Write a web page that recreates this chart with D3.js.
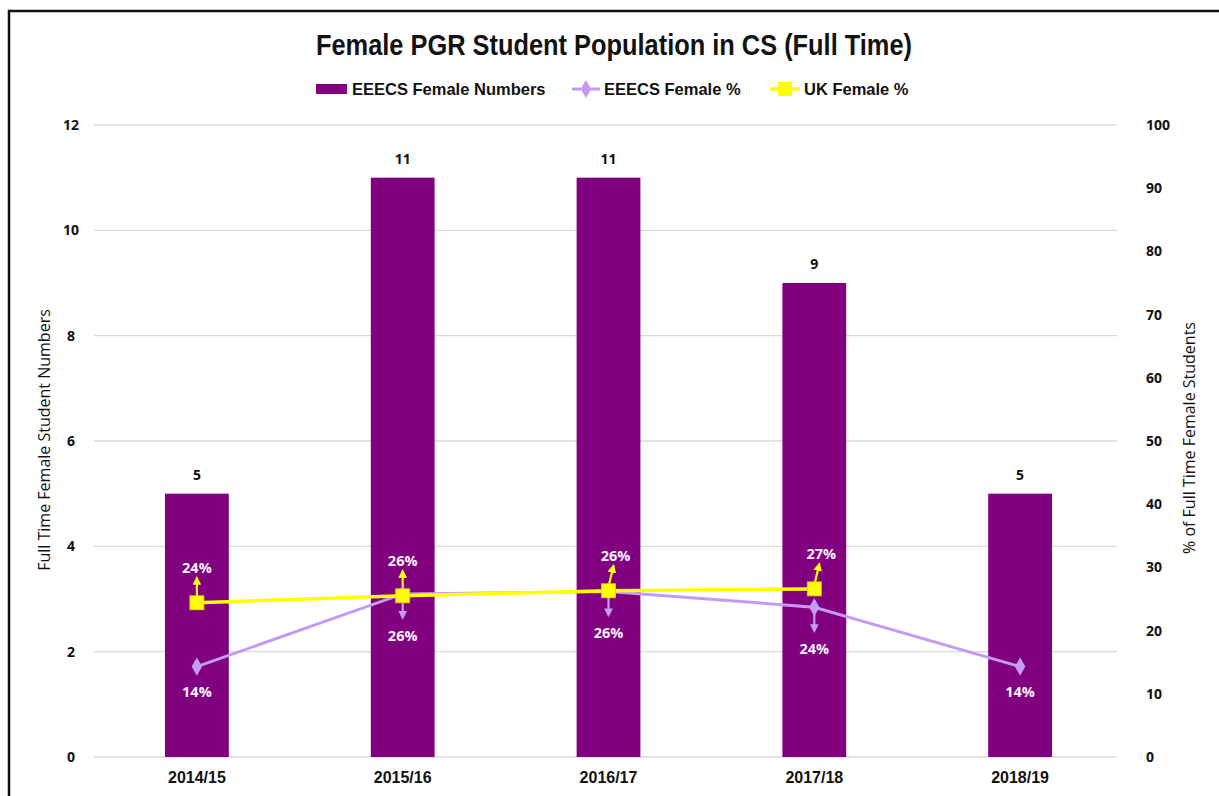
<!DOCTYPE html>
<html>
<head>
<meta charset="utf-8">
<script src="https://cdn.jsdelivr.net/npm/d3@7"></script>
<style>
  body { margin: 0; background: #fff; }
  svg { display: block; font-family: 'Liberation Sans Narrow', 'Open Sans', sans-serif; }
</style>
</head>
<body>
<div class="canvas"></div>
<script>
const years = ['2014/15', '2015/16', '2016/17', '2017/18', '2018/19'];
const femaleNumbers = [5, 11, 11, 9, 5];
const eeecsPct = [14.3, 25.8, 26.2, 23.7, 14.3];
const ukPct = [24.4, 25.5, 26.3, 26.6];
const leftTicks = [0, 2, 4, 6, 8, 10, 12];
const rightTicks = [0, 10, 20, 30, 40, 50, 60, 70, 80, 90, 100];

const width = 1219;
const height = 796;
const margin = { top: 125, right: 96, bottom: 39, left: 94 };
const graphWidth = width - margin.left - margin.right;
const graphHeight = height - margin.top - margin.bottom;

const purple = '#80007f';
const lavender = '#c39cf2';
const yellow = '#ffff00';

const svg = d3
  .select('.canvas')
  .append('svg')
  .attr('width', width)
  .attr('height', height);

// frame (only top and left edges show)
svg.append('path')
  .attr('d', `M9,${height} L9,11 L${width},11`)
  .attr('fill', 'none')
  .attr('stroke', '#111')
  .attr('stroke-width', 2.5);

const graph = svg
  .append('g')
  .attr('transform', `translate(${margin.left}, ${margin.top})`);

// scales
const x = d3.scaleBand().domain(years).range([0, graphWidth]).paddingInner(0.69).paddingOuter(0.345);
const y = d3.scaleLinear().domain([0, 12]).range([graphHeight, 0]);
const y2 = d3.scaleLinear().domain([0, 100]).range([graphHeight, 0]);
const cx = d => x(d) + x.bandwidth() / 2;

// gridlines
graph.append('g')
  .selectAll('line')
  .data(leftTicks)
  .enter()
  .append('line')
  .attr('x1', 0)
  .attr('x2', graphWidth - 6)
  .attr('y1', d => y(d))
  .attr('y2', d => y(d))
  .attr('stroke', '#d9d9d9')
  .attr('stroke-width', 1.3);

// axes
const yAxis = d3.axisLeft(y).tickValues(leftTicks).tickSize(0).tickPadding(23);
const yAxis2 = d3.axisRight(y2).tickValues(rightTicks).tickSize(0).tickPadding(23);
const xAxis = d3.axisBottom(x).tickSize(0).tickPadding(15);

const yAxisGroup = graph.append('g').call(yAxis);
const yAxisGroup2 = graph.append('g').attr('transform', `translate(${graphWidth}, 0)`).call(yAxis2);
const xAxisGroup = graph.append('g').attr('transform', `translate(0, ${graphHeight})`).call(xAxis);

[yAxisGroup, yAxisGroup2, xAxisGroup].forEach(g => {
  g.select('.domain').remove();
  g.selectAll('text')
    .attr('fill', '#111')
    .style('font-family', "'Open Sans', sans-serif")
    .style('font-weight', 'bold')
    .style('font-size', '14px');
});
yAxisGroup.selectAll('text').attr('text-anchor', 'middle');
xAxisGroup.selectAll('text')
  .style('font-family', "'Liberation Sans Narrow', sans-serif")
  .style('font-size', '16px');

// axis titles
svg.append('text')
  .attr('transform', `translate(50, 440) rotate(-90)`)
  .attr('text-anchor', 'middle')
  .style('font-family', "'Open Sans', sans-serif")
  .style('font-size', '16px')
  .attr('fill', '#111')
  .text('Full Time Female Student Numbers');

svg.append('text')
  .attr('transform', `translate(1195, 438) rotate(-90)`)
  .attr('text-anchor', 'middle')
  .style('font-family', "'Open Sans', sans-serif")
  .style('font-size', '16px')
  .attr('fill', '#111')
  .text('% of Full Time Female Students');

// bars
graph.selectAll('rect.bar')
  .data(femaleNumbers)
  .enter()
  .append('rect')
  .attr('class', 'bar')
  .attr('x', (d, i) => x(years[i]))
  .attr('y', d => y(d))
  .attr('width', x.bandwidth())
  .attr('height', d => graphHeight - y(d))
  .attr('fill', purple);

graph.selectAll('text.barlabel')
  .data(femaleNumbers)
  .enter()
  .append('text')
  .attr('class', 'barlabel')
  .attr('x', (d, i) => cx(years[i]))
  .attr('y', d => y(d) - 14)
  .attr('text-anchor', 'middle')
  .style('font-family', "'Open Sans', sans-serif")
  .style('font-weight', 'bold')
  .style('font-size', '14px')
  .attr('fill', '#111')
  .text(d => d);

// arrow markers
const defs = svg.append('defs');
[['arrowY', yellow], ['arrowL', lavender]].forEach(([id, col]) => {
  defs.append('marker')
    .attr('id', id)
    .attr('viewBox', '0 0 10 10')
    .attr('refX', 8)
    .attr('refY', 5)
    .attr('markerWidth', 4)
    .attr('markerHeight', 4)
    .attr('orient', 'auto')
    .append('path')
    .attr('d', 'M0,0 L10,5 L0,10 Z')
    .attr('fill', col);
});

// lines
const line = d3.line()
  .x((d, i) => cx(years[i]))
  .y(d => y2(d));

graph.append('path')
  .datum(eeecsPct)
  .attr('fill', 'none')
  .attr('stroke', lavender)
  .attr('stroke-width', 3)
  .attr('d', line);

graph.append('path')
  .datum(ukPct)
  .attr('fill', 'none')
  .attr('stroke', yellow)
  .attr('stroke-width', 3.5)
  .attr('d', line);

// eeecs leader arrows (down) for middle points
graph.selectAll('line.eArrow')
  .data(eeecsPct.slice(1, 4))
  .enter()
  .append('line')
  .attr('x1', (d, i) => cx(years[i + 1]))
  .attr('x2', (d, i) => cx(years[i + 1]))
  .attr('y1', d => y2(d) + 4)
  .attr('y2', d => y2(d) + 24)
  .attr('stroke', lavender)
  .attr('stroke-width', 2.2)
  .attr('marker-end', 'url(#arrowL)');

// uk leader arrows (up)
graph.selectAll('line.uArrow')
  .data(ukPct)
  .enter()
  .append('line')
  .attr('x1', (d, i) => cx(years[i]))
  .attr('x2', (d, i) => cx(years[i]) + (i >= 2 ? 5 : 0))
  .attr('y1', d => y2(d) - 4)
  .attr('y2', d => y2(d) - 25)
  .attr('stroke', yellow)
  .attr('stroke-width', 2.2)
  .attr('marker-end', 'url(#arrowY)');

// markers
const diamond = d3.symbol().type(d3.symbolDiamond).size(95);
graph.selectAll('path.eDot')
  .data(eeecsPct)
  .enter()
  .append('path')
  .attr('transform', (d, i) => `translate(${cx(years[i])}, ${y2(d)})`)
  .attr('d', diamond)
  .attr('fill', lavender);

graph.selectAll('rect.uDot')
  .data(ukPct)
  .enter()
  .append('rect')
  .attr('x', (d, i) => cx(years[i]) - 7)
  .attr('y', d => y2(d) - 7)
  .attr('width', 14)
  .attr('height', 14)
  .attr('fill', yellow)
  .attr('stroke', '#e6d200')
  .attr('stroke-width', 0.8);

// percentage labels
const pctLabel = sel => sel
  .attr('text-anchor', 'middle')
  .style('font-family', "'Open Sans', sans-serif")
  .style('font-weight', 'bold')
  .style('font-size', '14.5px')
  .attr('fill', '#fbf2ff');

graph.selectAll('text.eLab')
  .data(eeecsPct)
  .enter()
  .append('text')
  .attr('x', (d, i) => cx(years[i]))
  .attr('y', (d, i) => y2(d) + (i === 0 || i === 4 ? 30 : 47))
  .call(pctLabel)
  .text(d => Math.round(d) + '%');

graph.selectAll('text.uLab')
  .data(ukPct)
  .enter()
  .append('text')
  .attr('x', (d, i) => cx(years[i]) + (i >= 2 ? 7 : 0))
  .attr('y', d => y2(d) - 30)
  .call(pctLabel)
  .text(d => Math.round(d) + '%');

// title
svg.append('text')
  .attr('x', 614)
  .attr('y', 55)
  .attr('text-anchor', 'middle')
  .attr('textLength', 596)
  .attr('lengthAdjust', 'spacingAndGlyphs')
  .style('font-family', "'Liberation Sans Narrow', sans-serif")
  .style('font-weight', 'bold')
  .style('font-size', '29px')
  .attr('fill', '#111')
  .text('Female PGR Student Population in CS (Full Time)');

// legend
const legend = svg.append('g').attr('transform', 'translate(0, 89)');
const legendFont = sel => sel
  .style('font-family', "'Liberation Sans Narrow', sans-serif")
  .style('font-weight', 'bold')
  .style('font-size', '16.5px')
  .attr('fill', '#111')
  .attr('dy', '0.35em');

legend.append('rect').attr('x', 316).attr('y', -5).attr('width', 31).attr('height', 10).attr('fill', purple);
legend.append('text').attr('x', 352).call(legendFont).text('EEECS Female Numbers');

legend.append('line').attr('x1', 572).attr('x2', 600).attr('stroke', lavender).attr('stroke-width', 3);
legend.append('path').attr('transform', 'translate(586, 0)').attr('d', diamond).attr('fill', lavender);
legend.append('text').attr('x', 604).call(legendFont).text('EEECS Female %');

legend.append('line').attr('x1', 770).attr('x2', 800).attr('stroke', yellow).attr('stroke-width', 3.5);
legend.append('rect').attr('x', 778).attr('y', -7).attr('width', 14).attr('height', 14).attr('fill', yellow);
legend.append('text').attr('x', 804).call(legendFont).text('UK Female %');
</script>
</body>
</html>
